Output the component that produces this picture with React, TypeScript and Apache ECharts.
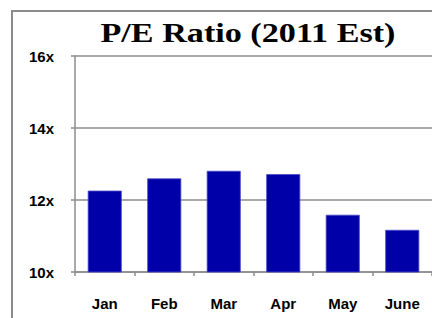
import React, { useEffect, useRef } from "react";
import * as echarts from "echarts";

const categories = ["Jan", "Feb", "Mar", "Apr", "May", "June"];
const peValues = [12.26, 12.6, 12.81, 12.72, 11.59, 11.17];
const yTicks = [10, 12, 14, 16];
const chartTitle = "P/E Ratio (2011 Est)";

export default function App() {
  const ref = useRef<HTMLDivElement>(null);
  useEffect(() => {
    if (!ref.current) return;
    const chart = echarts.init(ref.current, null, { renderer: "svg" });
    chart.setOption({
      animation: false,
      backgroundColor: "#ffffff",
      graphic: [
        {
          type: "rect",
          shape: { x: 12, y: 11, width: 500, height: 400 },
          style: { fill: "none", stroke: "#8c8c8c", lineWidth: 2 },
          z: 0,
        },
        {
          type: "text",
          x: 248,
          y: 47,
          scaleX: 1.22,
          style: {
            text: chartTitle,
            font: "bold 28px 'Liberation Serif', serif",
            fill: "#000",
            textAlign: "center",
            textVerticalAlign: "bottom",
          },
        },
      ],
      grid: { left: 75, top: 56, width: 370, height: 216 },
      xAxis: {
        type: "category",
        data: categories,
        axisLine: { lineStyle: { color: "#8c8c8c", width: 1.5 } },
        axisTick: { show: true, length: 4, lineStyle: { color: "#8c8c8c", width: 1.5 } },
        axisLabel: {
          color: "#000",
          fontWeight: "bold",
          fontSize: 15,
          fontFamily: "'Liberation Sans', Arial, sans-serif",
          margin: 24,
          interval: 0,
        },
      },
      yAxis: {
        type: "value",
        min: yTicks[0],
        max: yTicks[yTicks.length - 1],
        interval: 2,
        axisLine: { show: true, lineStyle: { color: "#8c8c8c", width: 1.5 } },
        axisTick: { show: true, length: 4, lineStyle: { color: "#8c8c8c", width: 1.5 } },
        splitLine: { show: true, lineStyle: { color: "#8c8c8c", width: 1.5 } },
        axisLabel: {
          color: "#000",
          fontWeight: "bold",
          fontSize: 15,
          fontFamily: "'Liberation Sans', Arial, sans-serif",
          margin: 21,
          formatter: (v: number) => `${v}x`,
        },
      },
      series: [
        {
          type: "bar",
          data: peValues,
          barWidth: 34,
          itemStyle: { color: "#0000a8", borderColor: "#4a4ac8", borderWidth: 0.8 },
        },
      ],
    });
    return () => chart.dispose();
  }, []);
  return (
    <div
      ref={ref}
      style={{ position: "fixed", left: 0, top: 0, width: 432, height: 318 }}
    />
  );
}
